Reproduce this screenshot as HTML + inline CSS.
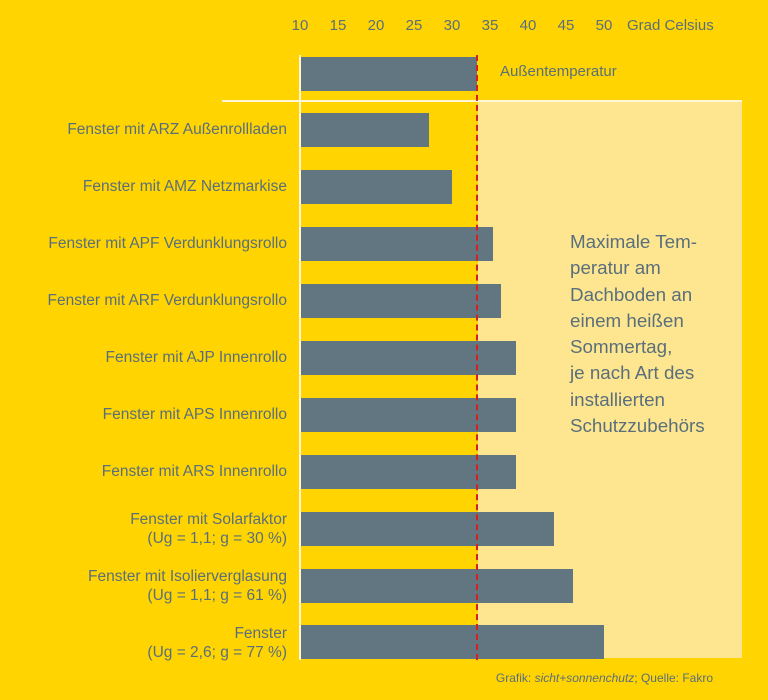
<!DOCTYPE html>
<html><head><meta charset="utf-8"><style>
body{margin:0;width:768px;height:700px;background:#FFD400;position:relative;overflow:hidden;font-family:"Liberation Sans",sans-serif;color:#5a6f7c}
div{position:absolute}
.b{background:#627682;left:301px;height:34px}
.l{right:481px;text-align:right;font-size:15.5px;line-height:19px;white-space:nowrap}
.t{top:17px;font-size:15px;width:30px;margin-left:-15px;text-align:center}
</style></head><body>
<div style="left:478px;top:102px;width:264px;height:556px;background:#FEE690"></div>
<div style="left:222px;top:100px;width:520px;height:2px;background:#fff7d8"></div>
<div style="left:299px;top:55px;width:2px;height:605px;background:#fff7d8"></div>
<div class="t" style="left:300px">10</div><div class="t" style="left:338px">15</div><div class="t" style="left:376px">20</div><div class="t" style="left:414px">25</div><div class="t" style="left:452px">30</div><div class="t" style="left:490px">35</div><div class="t" style="left:528px">40</div><div class="t" style="left:566px">45</div><div class="t" style="left:604px">50</div>
<div style="left:627px;top:17px;font-size:15px">Grad Celsius</div>
<div class="b" style="top:57px;width:176px"></div>
<div style="left:500px;top:63px;font-size:15px">Außentemperatur</div>
<div class="b" style="top:113px;width:128px"></div>
<div class="b" style="top:170px;width:151px"></div>
<div class="b" style="top:227px;width:192px"></div>
<div class="b" style="top:284px;width:200px"></div>
<div class="b" style="top:341px;width:215px"></div>
<div class="b" style="top:398px;width:215px"></div>
<div class="b" style="top:455px;width:215px"></div>
<div class="b" style="top:512px;width:253px"></div>
<div class="b" style="top:569px;width:272px"></div>
<div class="b" style="top:625px;width:303px"></div>
<div style="left:476px;top:55px;height:605px;border-left:2px dashed #d42020"></div>
<div class="l" style="top:120px">Fenster mit ARZ Außenrollladen</div>
<div class="l" style="top:177px">Fenster mit AMZ Netzmarkise</div>
<div class="l" style="top:234px">Fenster mit APF Verdunklungsrollo</div>
<div class="l" style="top:291px">Fenster mit ARF Verdunklungsrollo</div>
<div class="l" style="top:348px">Fenster mit AJP Innenrollo</div>
<div class="l" style="top:405px">Fenster mit APS Innenrollo</div>
<div class="l" style="top:462px">Fenster mit ARS Innenrollo</div>
<div class="l" style="top:510px">Fenster mit Solarfaktor<br>(Ug = 1,1; g = 30 %)</div>
<div class="l" style="top:567px">Fenster mit Isolierverglasung<br>(Ug = 1,1; g = 61 %)</div>
<div class="l" style="top:624px">Fenster<br>(Ug = 2,6; g = 77 %)</div>
<div style="left:570px;top:229px;font-size:18.8px;line-height:26.3px">Maximale Tem-<br>peratur am<br>Dachboden an<br>einem heißen<br>Sommertag,<br>je nach Art des<br>installierten<br>Schutzzubehörs</div>
<div style="right:55px;top:671px;font-size:12px">Grafik: <i>sicht+sonnenchutz</i>; Quelle: Fakro</div>
</body></html>
